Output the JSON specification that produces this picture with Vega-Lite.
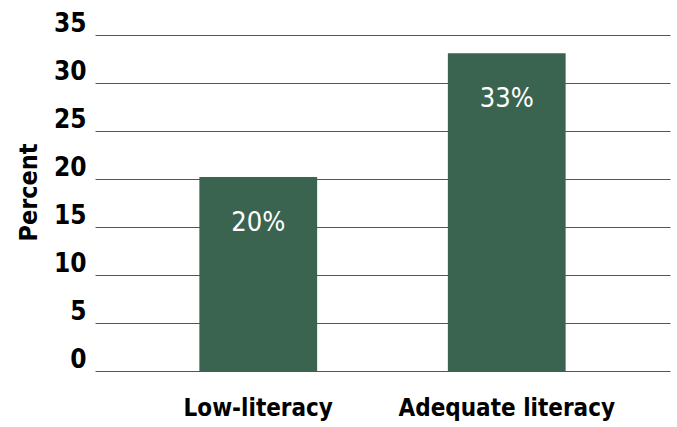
{
  "$schema": "https://vega.github.io/schema/vega-lite/v6.json",
  "width": 575,
  "height": 336,
  "autosize": "none",
  "padding": {"left": 95, "top": 35, "right": 7, "bottom": 56},
  "background": "white",
  "config": {
    "view": {"stroke": null},
    "font": "DejaVu Sans Condensed, Roboto, sans-serif"
  },
  "data": {
    "values": [
      {"group": "Low-literacy", "value": 20.2, "label": "20%"},
      {"group": "Adequate literacy", "value": 33.1, "label": "33%"}
    ]
  },
  "encoding": {
    "x": {
      "field": "group",
      "type": "nominal",
      "sort": null,
      "scale": {"paddingInner": 0.526, "paddingOuter": 0.42},
      "axis": {
        "title": null,
        "labelAngle": 0,
        "domain": false,
        "ticks": false,
        "labelFont": "DejaVu Sans Condensed, Roboto, sans-serif",
        "labelFontWeight": "bold",
        "labelFontSize": 24,
        "labelColor": "#000000",
        "labelPadding": 25,
        "labelBaseline": "top",
        "labelLimit": 0
      }
    },
    "y": {
      "field": "value",
      "type": "quantitative",
      "scale": {"domain": [0, 35], "nice": false},
      "axis": {
        "title": "Percent",
        "values": [0, 5, 10, 15, 20, 25, 30, 35],
        "domain": false,
        "ticks": false,
        "grid": true,
        "gridColor": "#3a6450",
        "gridWidth": 1.2,
        "gridOpacity": 1,
        "labelFont": "DejaVu Sans Condensed, Roboto, sans-serif",
        "labelFontWeight": "bold",
        "labelFontSize": 26,
        "labelColor": "#000000",
        "labelPadding": 9,
        "labelBaseline": "alphabetic",
        "labelOffset": -4,
        "titleFont": "DejaVu Sans Condensed, Roboto, sans-serif",
        "titleFontWeight": "bold",
        "titleFontSize": 25,
        "titleColor": "#000000",
        "titlePadding": 12,
        "titleY": 157,
        "titleAlign": "center"
      }
    }
  },
  "layer": [
    {"mark": {"type": "bar", "color": "#3a6450"}},
    {
      "mark": {
        "type": "text",
        "color": "white",
        "font": "DejaVu Sans Condensed, Roboto, sans-serif",
        "fontSize": 27,
        "fontWeight": "normal",
        "baseline": "alphabetic",
        "dy": 54
      },
      "encoding": {"text": {"field": "label"}}
    }
  ]
}
